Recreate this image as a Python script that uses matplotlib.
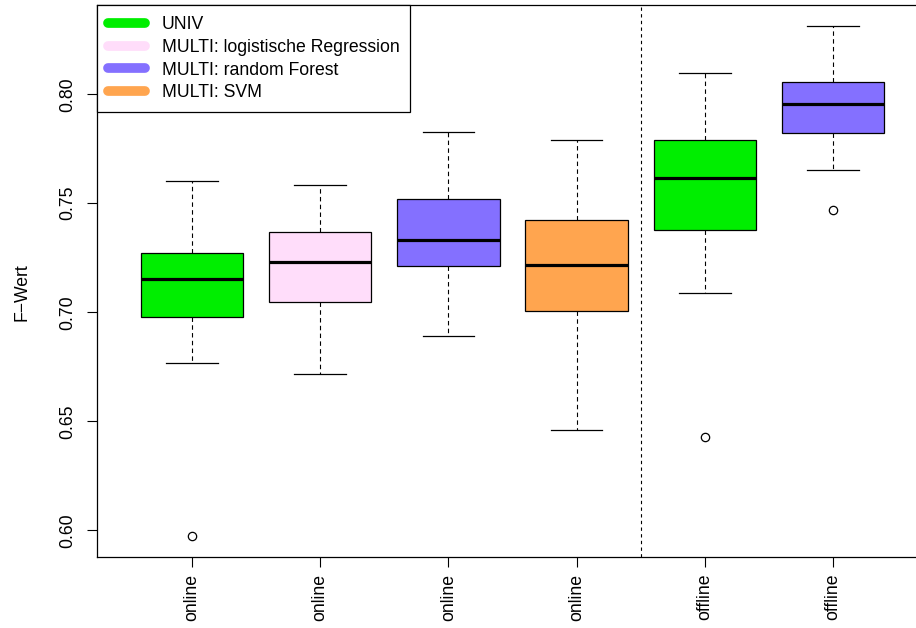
import matplotlib
matplotlib.use("Agg")
import matplotlib.pyplot as plt
from matplotlib.lines import Line2D

plt.rcParams['font.family'] = ['Liberation Sans', 'DejaVu Sans']

# Daten
labels = ['online', 'online', 'online', 'online', 'offline', 'offline']
whislo = [0.6769, 0.6717, 0.6893, 0.6459, 0.7087, 0.7653]
q1 = [0.6977, 0.7046, 0.7211, 0.7006, 0.7376, 0.7823]
med = [0.7153, 0.7231, 0.7330, 0.7219, 0.7616, 0.7953]
q3 = [0.7272, 0.7366, 0.7518, 0.7425, 0.7788, 0.8054]
whishi = [0.7602, 0.7584, 0.7826, 0.7789, 0.8096, 0.8315]
fliers = [[0.5972], [], [], [], [0.6427], [0.7469]]

legend_labels = ['UNIV', 'MULTI: logistische Regression',
                 'MULTI: random Forest', 'MULTI: SVM']
legend_colors = ['#00EE00', '#FFDDFA', '#8470FF', '#FFA54F']
box_colors = ['#00EE00', '#FFDDFA', '#8470FF', '#FFA54F', '#00EE00', '#8470FF']

stats = []
for i in range(len(labels)):
    stats.append(dict(whislo=whislo[i], q1=q1[i], med=med[i], q3=q3[i],
                      whishi=whishi[i], fliers=fliers[i]))

fig = plt.figure(figsize=(9.16, 6.28), dpi=100)
ax = fig.add_axes([97 / 916, 1 - 557 / 628, 831 / 916, 552 / 628])

bp = ax.bxp(stats, positions=range(1, 7), widths=0.8, patch_artist=True,
            showfliers=True,
            boxprops=dict(linewidth=0.9, edgecolor='black'),
            medianprops=dict(color='black', linewidth=2.3),
            whiskerprops=dict(linestyle=(0, (4, 3)), linewidth=0.8, color='black'),
            capprops=dict(linewidth=0.9, color='black'),
            flierprops=dict(marker='o', markersize=6, markerfacecolor='none',
                            markeredgecolor='black', markeredgewidth=0.9))
for patch, c in zip(bp['boxes'], box_colors):
    patch.set_facecolor(c)
# Kappen halb so breit wie die Boxen (wie in R)
for cap in bp['caps']:
    x0, x1 = cap.get_xdata()
    xm = (x0 + x1) / 2
    cap.set_xdata([xm - 0.2, xm + 0.2])

ax.axvline(4.5, color='black', linestyle=(0, (3, 3)), linewidth=0.8)

ax.set_xlim(0.26, 6.74)
ax.set_ylim(0.5878, 0.8409)
ax.set_yticks([0.60, 0.65, 0.70, 0.75, 0.80])
ax.set_yticklabels(['0.60', '0.65', '0.70', '0.75', '0.80'], rotation=90,
                   va='center', fontsize=12.7)
ax.set_xticks(range(1, 7))
ax.set_xticklabels(labels, rotation=90, va='top', ha='center', fontsize=12.7)
ax.tick_params(axis='both', direction='out', length=7, width=0.8)
ax.tick_params(axis='y', pad=8)
ax.tick_params(axis='x', pad=5)
for s in ax.spines.values():
    s.set_linewidth(0.9)

fig.text(22 / 916, 1 - 292 / 628, 'F\u2212Wert', rotation=90,
         ha='center', va='center', fontsize=12.7)

handles = [Line2D([0], [0], color=c, linewidth=7, solid_capstyle='round')
           for c in legend_colors]
leg = ax.legend(handles, legend_labels, loc='upper left', borderaxespad=0,
                fancybox=False, framealpha=1, edgecolor='black', fontsize=12.7,
                handlelength=2.1, handletextpad=0.95, labelspacing=0.33,
                borderpad=0.62)
leg.get_frame().set_linewidth(0.9)

fig.savefig('out.png', dpi=100)
